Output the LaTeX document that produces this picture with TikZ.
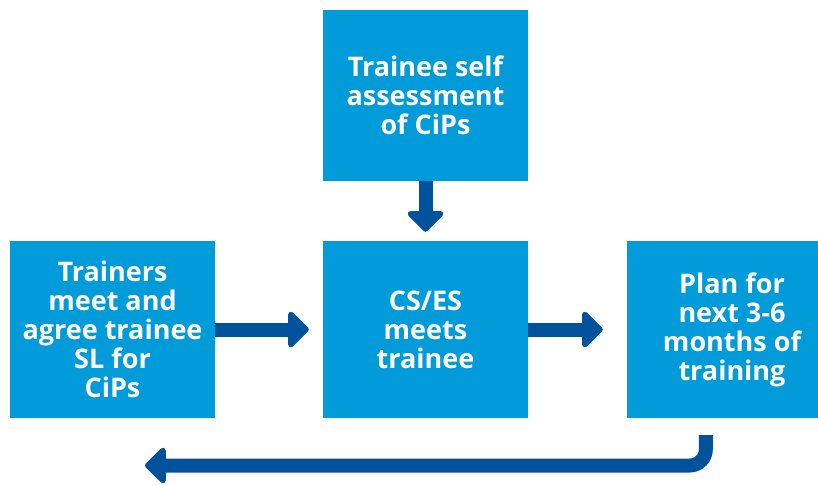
\documentclass[tikz,border=0pt]{standalone}
\usepackage{fontspec}
\setmainfont{Open Sans}
\usetikzlibrary{arrows.meta,calc}
\definecolor{boxblue}{HTML}{009BD8}
\definecolor{arrowblue}{HTML}{00529C}
\tikzset{
  box/.style={fill=boxblue, draw=none, text=white, align=center,
    font=\bfseries\fontsize{27}{29}\selectfont, inner sep=0pt},
  flow/.style={draw=arrowblue, line width=14pt,
    -{Triangle[width=42pt,length=22pt,round]}},
}
\begin{document}
\begin{tikzpicture}[x=1pt,y=-1pt]
\clip (0,0) rectangle (818,486);
\node[box, minimum width=205pt, minimum height=171pt] (top) at (425.5,95.5)
  {Trainee self\\assessment\\of CiPs};
\node[box, minimum width=205pt, minimum height=177pt] (left) at (112.5,329.5)
  {Trainers\\meet and\\agree trainee\\SL for\\CiPs};
\node[box, minimum width=205pt, minimum height=177pt] (mid) at (425.5,329.5)
  {CS/ES\\meets\\trainee};
\node[box, minimum width=210pt, minimum height=177pt] (right) at (732,329.5)
  {Plan for\\next 3-6\\months of\\training};
\draw[flow, shorten >=9pt] (top.south) -- (mid.north);
\draw[flow, shorten >=14pt] (left.east) -- (mid.west);
\draw[flow, shorten >=24pt] (mid.east) -- (right.west);
\coordinate (bstart) at ($(right.south west)+(79,17)$);
\coordinate (bend) at (145,465.5);
\draw[flow, rounded corners=16pt] (bstart) |- (bend);
\end{tikzpicture}
\end{document}
